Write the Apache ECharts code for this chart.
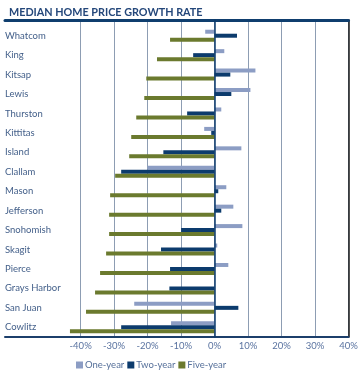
<!DOCTYPE html>
<html><head><meta charset="utf-8">
<script src="https://cdn.jsdelivr.net/npm/echarts@6/dist/echarts.min.js"></script>
<style>html,body{margin:0;padding:0;background:#fff}#c{width:363px;height:381px}</style>
</head><body><div id="c"></div>
<script>
var counties = ['Whatcom','King','Kitsap','Lewis','Thurston','Kittitas','Island','Clallam','Mason','Jefferson','Snohomish','Skagit','Pierce','Grays Harbor','San Juan','Cowlitz'];
var oneYear  = [-2.8, 2.9, 12.2, 10.7, 2.0, -3.1, 8.0, -20.0, 3.5, 5.6, 8.3, 0.8, 4.1, 0.0, -24.0, -13.0];
var twoYear  = [6.7, -6.4, 4.7, 5.0, -8.2, -1.0, -15.3, -27.9, 1.1, 2.0, -10.0, -16.0, -13.3, -13.5, 7.1, -27.9];
var fiveYear = [-13.3, -17.2, -20.4, -21.0, -23.4, -24.9, -25.5, -29.7, -31.2, -31.5, -31.5, -32.4, -34.2, -35.7, -38.4, -43.2];
var tickValues = [-40, -30, -20, -10, 0, 10, 20, 30, 40];
var seriesNames = ['One-year', 'Two-year', 'Five-year'];

var FONT = 'Lato';
var XMIN = -62.6, XMAX = 40;
var colors = ['#8c9dc4', '#0c3b6d', '#6b7a2e'];

var chart = echarts.init(document.getElementById('c'), null, {renderer: 'canvas'});
var option = {
  animation: false,
  textStyle: {fontFamily: FONT},
  title: {
    text: 'MEDIAN HOME PRICE GROWTH RATE',
    left: 4, top: 2,
    textStyle: {fontFamily: FONT, fontSize: 10.8, fontWeight: 'bold', color: '#24477a'}
  },
  legend: {
    data: seriesNames,
    left: 71, top: 355,
    icon: 'rect', itemWidth: 7, itemHeight: 7, itemGap: 3,
    textStyle: {fontFamily: FONT, fontSize: 9.5, color: '#56709a', padding: [0, 0, 0, -3]}
  },
  grid: [
    {left: 5, right: 14.5, top: 20, bottom: 44},
    {left: 5, right: 14.5, top: 26, bottom: 44}
  ],
  xAxis: [
    {
      gridIndex: 0, type: 'value', min: XMIN, max: XMAX, position: 'bottom',
      axisLine: {show: true, onZero: false, lineStyle: {color: '#1c3f6b', width: 2}},
      axisTick: {show: false, customValues: tickValues},
      axisLabel: {customValues: tickValues, formatter: '{value}%', fontFamily: FONT, fontSize: 9.5, color: '#5a73a0', margin: 4},
      splitLine: {show: true, lineStyle: {color: '#8d9db3', width: 1}}
    },
    {
      gridIndex: 0, type: 'value', min: XMIN, max: XMAX, position: 'top',
      axisLine: {show: true, onZero: false, lineStyle: {color: '#0f3e6e', width: 3}},
      axisTick: {show: false}, axisLabel: {show: false}, splitLine: {show: false}
    },
    {
      gridIndex: 1, type: 'value', min: XMIN, max: XMAX, show: false,
      splitLine: {show: false}
    }
  ],
  yAxis: [
    {
      gridIndex: 0, type: 'value', position: 'left', z: 5,
      axisLine: {show: true, onZero: true, lineStyle: {color: '#0c3b6d', width: 1.5}},
      axisTick: {show: false}, axisLabel: {show: false}, splitLine: {show: false}
    },
    {
      gridIndex: 0, type: 'value', position: 'right',
      axisLine: {show: true, onZero: false, lineStyle: {color: '#1a1a1a', width: 1.5}},
      axisTick: {show: false}, axisLabel: {show: false}, splitLine: {show: false}
    },
    {
      gridIndex: 1, type: 'category', data: counties, inverse: true,
      axisLine: {show: false}, axisTick: {show: false},
      axisLabel: {inside: true, margin: 0, fontFamily: FONT, fontSize: 9.5, color: '#44608a'}
    }
  ],
  series: [
    {name: seriesNames[0], type: 'bar', xAxisIndex: 2, yAxisIndex: 2, data: oneYear, barWidth: 4, barGap: '0%', itemStyle: {color: colors[0]}},
    {name: seriesNames[1], type: 'bar', xAxisIndex: 2, yAxisIndex: 2, data: twoYear, barWidth: 4, barGap: '0%', itemStyle: {color: colors[1]}},
    {name: seriesNames[2], type: 'bar', xAxisIndex: 2, yAxisIndex: 2, data: fiveYear, barWidth: 4, barGap: '0%', itemStyle: {color: colors[2]}}
  ]
};
chart.setOption(option);
</script>
</body></html>
